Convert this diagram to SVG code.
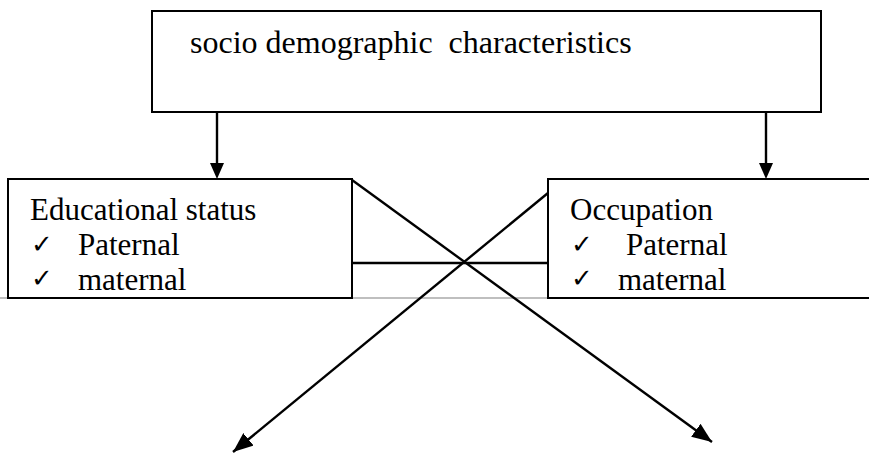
<svg xmlns="http://www.w3.org/2000/svg" width="869" height="459" viewBox="0 0 869 459">
<style>
.box{fill:#fff;stroke:#000;stroke-width:2}
.t{font-family:"Liberation Serif","Times New Roman",serif;font-size:32px;fill:#000;white-space:pre}
.b{font-size:31px}
.ck{font-family:"DejaVu Sans",sans-serif;font-size:26px;font-weight:bold}
.c{stroke:#000;stroke-width:2.4;fill:none}
</style>
<defs>
<marker id="ah" markerUnits="userSpaceOnUse" markerWidth="20" markerHeight="16" refX="20" refY="8" orient="auto">
<path d="M0,0 L20,8 L0,16 z" fill="#000"/>
</marker>
</defs>
<rect width="869" height="459" fill="#fff"/>
<line x1="0" y1="298" x2="869" y2="298" stroke="#aaa" stroke-width="1.5"/>
<g id="top">
<rect class="box" x="152" y="11" width="669" height="101"/>
<text class="t" x="190" y="53">socio demographic  characteristics</text>
</g>
<g id="edu">
<rect class="box" x="8" y="179" width="344" height="119"/>
<text class="t b"><tspan x="30" y="220">Educational status</tspan><tspan class="ck" x="31" y="253">✓</tspan><tspan x="78" y="255">Paternal</tspan><tspan class="ck" x="31" y="287">✓</tspan><tspan x="78" y="290">maternal</tspan></text>
</g>
<g id="occ">
<rect class="box" x="548" y="179" width="330" height="119"/>
<text class="t b"><tspan x="570" y="220">Occupation</tspan><tspan class="ck" x="571" y="253">✓</tspan><tspan x="626" y="255">Paternal</tspan><tspan class="ck" x="571" y="287">✓</tspan><tspan x="618" y="290">maternal</tspan></text>
</g>
<g id="connectors">
<line class="c" x1="217" y1="112" x2="217" y2="165"/>
<polygon points="210,163 224,163 217,179" fill="#000"/>
<line class="c" x1="766" y1="112" x2="766" y2="165"/>
<polygon points="759,163 773,163 766,179" fill="#000"/>
<line class="c" x1="352" y1="263" x2="548" y2="263"/>
<line class="c" x1="352" y1="180" x2="712" y2="442" marker-end="url(#ah)"/>
<line class="c" x1="548" y1="193" x2="233" y2="452" marker-end="url(#ah)"/>
</g>
</svg>
